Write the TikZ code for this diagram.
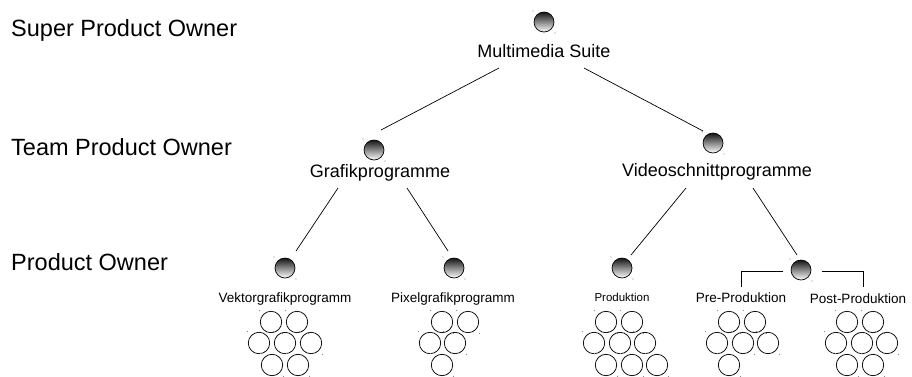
\documentclass[tikz,border=0pt]{standalone}
\usepackage{fontspec}
\setmainfont{Liberation Sans}
\begin{document}
\begin{tikzpicture}[x=1pt,y=-1pt,
  ball/.style={circle,draw=black,line width=0.7pt,minimum size=20pt,inner sep=0pt,
               top color=black!92,bottom color=white},
  seat/.style={circle,draw=black,line width=0.75pt,minimum size=21.4pt,inner sep=0pt},
  tick/.style={fill=black!45},
  level/.style={font=\fontsize{23.5}{28}\selectfont,anchor=base west,inner sep=0pt},
  unit/.style={font=\fontsize{18}{22}\selectfont,anchor=base,inner sep=0pt},
  team/.style={font=\fontsize{13.5}{16}\selectfont,anchor=base,inner sep=0pt},
  small/.style={font=\fontsize{11.5}{14}\selectfont,anchor=base,inner sep=0pt},
  link/.style={line width=0.7pt}]

\fill[white] (0,0) rectangle (912,376);
\useasboundingbox (0,0) rectangle (912,376);

% hierarchy levels
\node[level] (lvl1) at (11,36)  {Super Product Owner};
\node[level] (lvl2) at (11,155) {Team Product Owner};
\node[level] (lvl3) at (11,270) {Product Owner};

% owners (balls) with their corner handles
\foreach \nm/\bx/\by in {top/544/22, gra/374/150, vid/713/143,
                         vek/285/268, pix/454/268, pro/622/268, pp/801/270} {
  \node[ball] (b-\nm) at (\bx,\by) {};
  \fill[tick] (\bx-11,\by-11) circle (0.6);
  \fill[tick] (\bx+11,\by+11) circle (0.6);
}

% labels
\node[unit]  (t-top) at (544,57)  {Multimedia Suite};
\node[unit]  (t-gra) at (380,177) {Grafikprogramme};
\node[unit]  (t-vid) at (717,176) {Videoschnittprogramme};
\node[team]  (t-vek) at (285,302) {Vektorgrafikprogramm};
\node[team]  (t-pix) at (453,302) {Pixelgrafikprogramm};
\node[small] (t-pro) at (622,301) {Produktion};
\node[team]  (t-pre) at (741,302) {Pre-Produktion};
\node[team]  (t-pst) at (858,303) {Post-Produktion};

% connector end points
\coordinate (a1) at (499,68);  \coordinate (a2) at (381,130);
\coordinate (a3) at (584,68);  \coordinate (a4) at (703,131);
\coordinate (g1) at (338,188); \coordinate (g2) at (296,251);
\coordinate (g3) at (407,188); \coordinate (g4) at (448,251);
\coordinate (v1) at (686,188); \coordinate (v2) at (631,255);
\coordinate (v3) at (753,188); \coordinate (v4) at (797,255);
\coordinate (p1) at (783,271); \coordinate (p2) at (741,271); \coordinate (p3) at (741,287);
\coordinate (p4) at (822,271); \coordinate (p5) at (863,271); \coordinate (p6) at (863,287);

\draw[link] (a1) -- (a2);
\draw[link] (a3) -- (a4);
\draw[link] (g1) -- (g2);
\draw[link] (g3) -- (g4);
\draw[link] (v1) -- (v2);
\draw[link] (v3) -- (v4);
\draw[link] (p1) -- (p2) -- (p3);
\draw[link] (p4) -- (p5) -- (p6);

% team members (empty circles)
\foreach \grp/\pts in {
   vk/{271/322,297/322,259/343,285/343,311/343,272/365,298/365},
   px/{442/322,468/322,430/343,455/343,442/365},
   pr/{606/322,632/322,594/343,620/343,645/343,606/365,632/365,657/365},
   pe/{729/322,755/322,717/343,743/343,768/343,729/365},
   po/{847/322,873/322,836/343,862/343,887/343,847/365,873/365}} {
  \foreach \cx/\cy [count=\k] in \pts {
    \node[seat] (\grp-\k) at (\cx,\cy) {};
    \fill[tick] (\cx-11.5,\cy-11.5) circle (0.6);
    \fill[tick] (\cx+11.5,\cy+11.5) circle (0.6);
  }
}
\end{tikzpicture}
\end{document}
